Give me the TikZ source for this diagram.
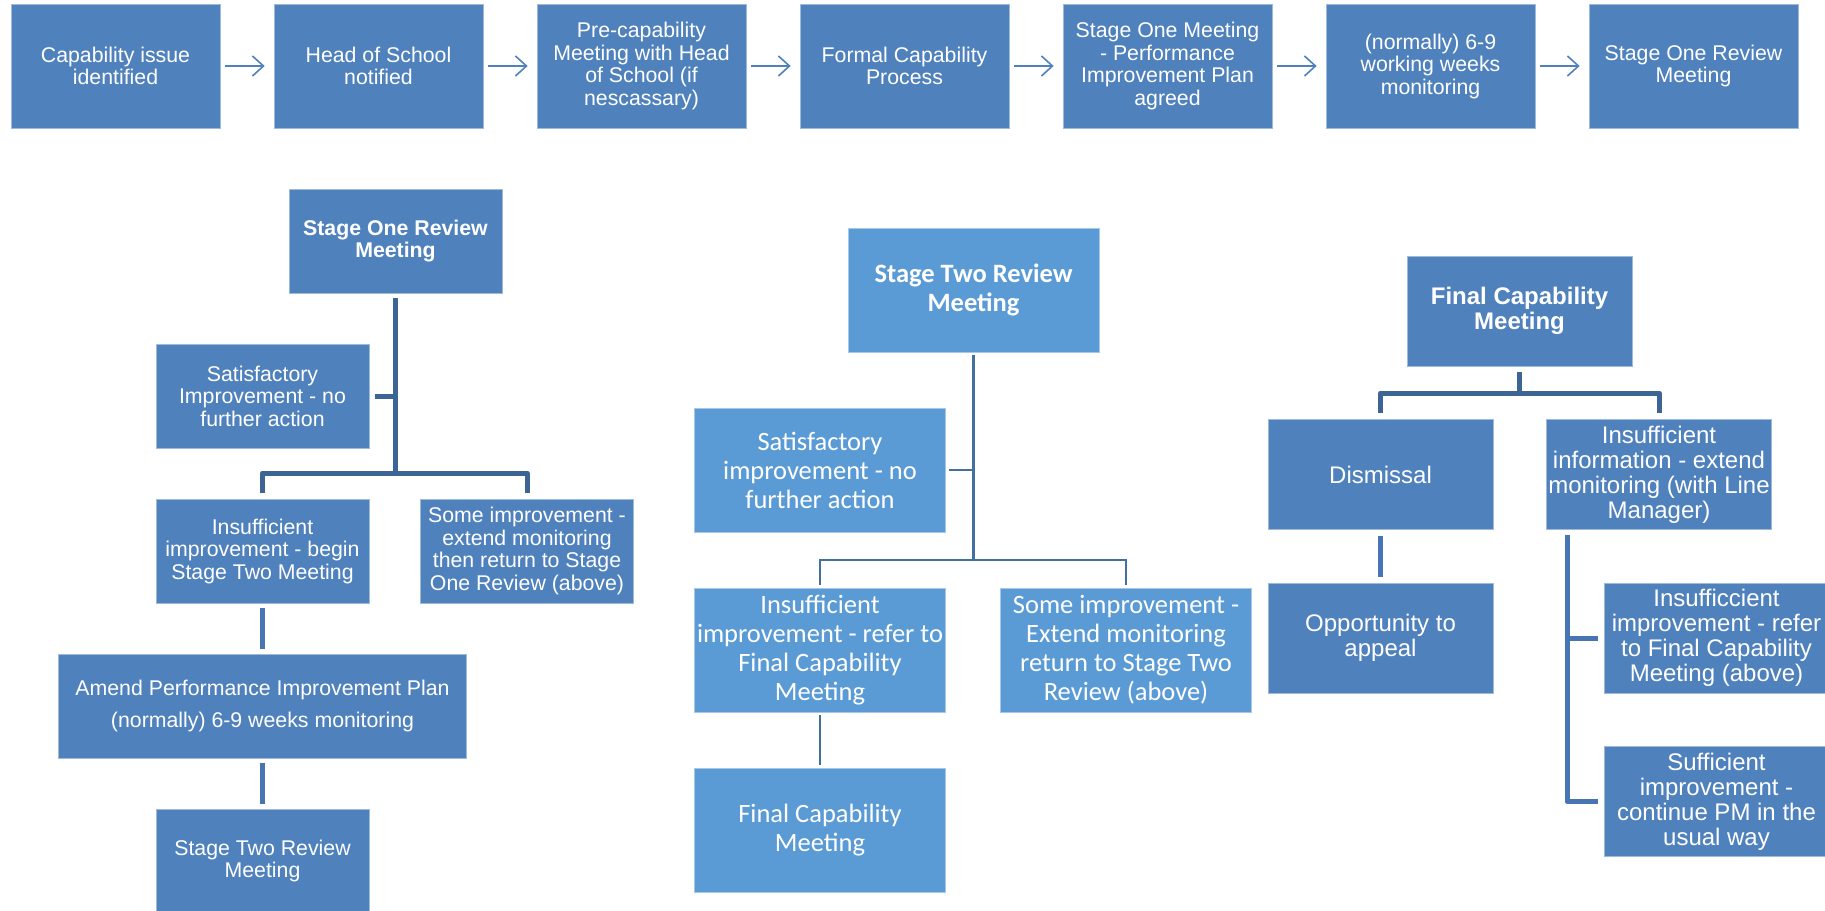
\documentclass[tikz,border=0pt]{standalone}
\usepackage{fontspec}
\setmainfont{Liberation Sans}
\newfontfamily\calibrifont{Carlito}
\usetikzlibrary{arrows.meta}
\definecolor{boxblue}{HTML}{4F81BD}
\definecolor{paleblue}{HTML}{5B9BD5}
\definecolor{bardark}{HTML}{3C6494}
\definecolor{barmid}{HTML}{4775B3}
\definecolor{barpale}{HTML}{41719C}

\begin{document}
\begin{tikzpicture}[x=1pt, y=-1pt,
	box/.style={fill=boxblue, draw=boxblue!55!white, line width=0.7pt, text=white, align=center, inner sep=0pt,
		minimum width=213pt, minimum height=104pt, font=\fontsize{21.3}{22.5}\selectfont},
	boldbox/.style={box, font=\fontsize{21.3}{22.5}\selectfont\bfseries},
	flowbox/.style={box, minimum width=209pt, minimum height=124pt},
	bigbox/.style={box, minimum width=225pt, minimum height=110pt, font=\fontsize{24}{25}\selectfont},
	bigbold/.style={bigbox, font=\fontsize{24}{25}\selectfont\bfseries},
	palebox/.style={box, fill=paleblue, draw=paleblue!55!white, minimum width=251pt, minimum height=124pt,
		font=\calibrifont\fontsize{26.5}{29}\selectfont},
	palebold/.style={palebox, font=\calibrifont\fontsize{26.5}{29.5}\selectfont\bfseries},
	flow/.style={-{Straight Barb[length=11pt,width=20pt]}, boxblue, line width=1.6pt},
	trunk/.style={bardark, line width=5pt, line join=round},
	link/.style={barmid, line width=5pt, line join=round},
	thin/.style={barpale, line width=2.7pt}]

	\path[use as bounding box, fill=white] (0,0) rectangle (1825,910);

	% top row
	\node[flowbox] (t1) at (115.5,66) {Capability issue\\identified};
	\node[flowbox] (t2) at (378.5,66) {Head of School\\notified};
	\node[flowbox] (t3) at (641.5,66) {Pre-capability\\Meeting with Head\\of School (if\\nescassary)};
	\node[flowbox] (t4) at (904.5,66) {Formal Capability\\Process};
	\node[flowbox] (t5) at (1167.5,66) {Stage One Meeting\\- Performance\\Improvement Plan\\agreed};
	\node[flowbox] (t6) at (1430.5,66) {(normally) 6-9\\working weeks\\monitoring};
	\node[flowbox] (t7) at (1693.5,66) {Stage One Review\\Meeting};
	\foreach \a/\b in {t1/t2, t2/t3, t3/t4, t4/t5, t5/t6, t6/t7}
		\draw[flow, shorten <=5pt, shorten >=9pt] (\a) -- (\b);

	% stage one review
	\node[boldbox] (s1head) at (395.5,241) {Stage One Review\\Meeting};
	\node[box] (s1ok) at (262.5,396) {Satisfactory\\Improvement - no\\further action};
	\node[box] (s1bad) at (262.5,551) {Insufficient\\improvement - begin\\Stage Two Meeting};
	\node[box] (s1some) at (527,551) {Some improvement -\\extend monitoring\\then return to Stage\\One Review (above)};
	\node[box, minimum width=408pt, font=\fontsize{21.3}{32}\selectfont] (amend) at (262.5,706)
		{Amend Performance Improvement Plan\\(normally) 6-9 weeks monitoring};
	\node[box] (s2next) at (262.5,861) {Stage Two Review\\Meeting};
	\coordinate (s1fork) at (395.5,473);
	\draw[trunk, shorten <=5pt] (s1head) -- (s1fork);
	\draw[trunk, shorten <=6pt] (s1ok) -- (s1ok -| s1fork);
	\draw[trunk, shorten <=6pt, shorten >=6pt] (s1bad) |- (s1fork) -| (s1some);
	\draw[link, shorten <=5pt, shorten >=5pt] (s1bad) -- (amend);
	\draw[link, shorten <=5pt, shorten >=5pt] (amend) -- (s2next);

	% stage two review
	\node[palebold] (s2head) at (973.5,290) {Stage Two Review\\Meeting};
	\node[palebox] (s2ok) at (820,470) {Satisfactory\\improvement - no\\further action};
	\node[palebox] (s2bad) at (820,650) {Insufficient\\improvement - refer to\\Final Capability\\Meeting};
	\node[palebox] (s2some) at (1126,650) {Some improvement -\\Extend monitoring\\return to Stage Two\\Review (above)};
	\node[palebox] (s2final) at (820,830) {Final Capability\\Meeting};
	\coordinate (s2fork) at (973.5,560);
	\draw[thin, shorten <=3pt] (s2head) -- (s2fork);
	\draw[thin, shorten <=3pt] (s2ok) -- (s2ok -| s2fork);
	\draw[thin, shorten <=3pt, shorten >=3pt] (s2bad) |- (s2fork) -| (s2some);
	\draw[thin, shorten <=3pt, shorten >=3pt] (s2bad) -- (s2final);

	% final capability
	\node[bigbold] (fhead) at (1519.5,311) {Final Capability\\Meeting};
	\node[bigbox] (fdis) at (1380.5,474.5) {Dismissal};
	\node[bigbox] (finfo) at (1659,474.5) {Insufficient\\information - extend\\monitoring (with Line\\Manager)};
	\node[bigbox] (fappeal) at (1380.5,638) {Opportunity to\\appeal};
	\node[bigbox] (fbad) at (1716.5,638) {Insufficcient\\improvement - refer\\to Final Capability\\Meeting (above)};
	\node[bigbox] (fgood) at (1716.5,801.5) {Sufficient\\improvement -\\continue PM in the\\usual way};
	\coordinate (ffork) at (1519.5,393);
	\coordinate (fbranch) at (1567,535);
	\draw[trunk, shorten <=6pt] (fhead) -- (ffork);
	\draw[trunk, shorten <=6pt, shorten >=6pt] (fdis) |- (ffork) -| (finfo);
	\draw[link, shorten <=6pt, shorten >=6pt] (fdis) -- (fappeal);
	\draw[link, shorten >=6pt] (fbranch) |- (fgood);
	\draw[link, shorten >=6pt] (fbranch |- fbad) -- (fbad);
\end{tikzpicture}
\end{document}
